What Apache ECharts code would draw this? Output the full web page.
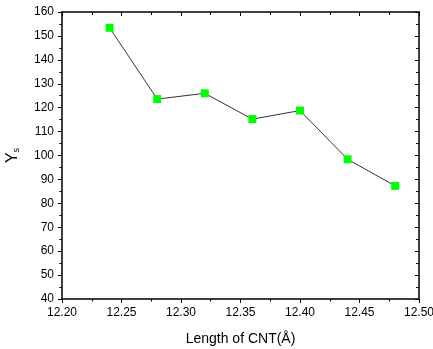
<!DOCTYPE html>
<html>
<head>
<meta charset="utf-8">
<script src="https://cdn.jsdelivr.net/npm/echarts@6/dist/echarts.min.js"></script>
<style>
html,body{margin:0;padding:0;background:#fff;}
#chart{width:433px;height:349px;}
</style>
</head>
<body>
<div id="chart"></div>
<script>
// data
var lengths = [12.24, 12.28, 12.32, 12.36, 12.40, 12.44, 12.48];
var ysValues = [153.4, 123.6, 126.0, 115.2, 118.8, 98.4, 87.3];

var font = 'Liberation Sans, Arial, sans-serif';
var tickStyle = { color: '#000', width: 1 };

var points = lengths.map(function (x, i) { return [x, ysValues[i]]; });

var chart = echarts.init(document.getElementById('chart'));
chart.setOption({
    backgroundColor: '#fff',
    animation: false,
    grid: { left: 62, right: 14, top: 12, bottom: 50, containLabel: false, outerBoundsMode: 'none' },
    xAxis: [{
        type: 'value',
        min: 12.2, max: 12.5, interval: 0.05,
        position: 'bottom',
        name: 'Length of CNT(\u00c5)',
        nameLocation: 'middle',
        nameGap: 33,
        nameTextStyle: { fontFamily: font, fontSize: 14, color: '#000' },
        axisLine: { lineStyle: { color: '#000', width: 1.5 } },
        axisTick: { inside: false, length: 4, lineStyle: tickStyle },
        minorTick: { show: true, splitNumber: 2, length: 2.5, lineStyle: tickStyle },
        axisLabel: {
            fontFamily: font, fontSize: 12, color: '#000', margin: 8,
            formatter: function (v) { return v.toFixed(2); }
        },
        splitLine: { show: false }
    }, {
        type: 'value',
        min: 12.2, max: 12.5, interval: 0.05,
        position: 'top',
        axisLine: { lineStyle: { color: '#000', width: 1.5 } },
        axisTick: { inside: true, length: 4, lineStyle: tickStyle },
        minorTick: { show: true, splitNumber: 2, length: 3, lineStyle: tickStyle },
        axisLabel: { show: false },
        splitLine: { show: false }
    }],
    yAxis: [{
        type: 'value',
        min: 40, max: 160, interval: 10,
        position: 'left',
        name: '{a|Y}{b|s}',
        nameLocation: 'middle',
        nameGap: 41,
        nameTextStyle: {
            rich: {
                a: { fontFamily: font, fontSize: 16, color: '#000' },
                b: { fontFamily: font, fontSize: 9, color: '#000', padding: [8, 0, 0, 0] }
            }
        },
        axisLine: { lineStyle: { color: '#000', width: 1.5 } },
        axisTick: { inside: false, length: 4, lineStyle: tickStyle },
        minorTick: { show: true, splitNumber: 2, length: 2.5, lineStyle: tickStyle },
        axisLabel: { fontFamily: font, fontSize: 12, color: '#000', margin: 8 },
        splitLine: { show: false }
    }, {
        type: 'value',
        min: 40, max: 160, interval: 10,
        position: 'right',
        axisLine: { lineStyle: { color: '#000', width: 1.5 } },
        axisTick: { inside: true, length: 4, lineStyle: tickStyle },
        minorTick: { show: true, splitNumber: 2, length: 3, lineStyle: tickStyle },
        axisLabel: { show: false },
        splitLine: { show: false }
    }],
    series: [{
        type: 'line',
        data: points,
        xAxisIndex: 0,
        yAxisIndex: 0,
        symbol: 'rect',
        symbolSize: 8,
        lineStyle: { color: '#333', width: 1 },
        itemStyle: { color: '#00ff00', borderWidth: 0 }
    }]
});
</script>
</body>
</html>
